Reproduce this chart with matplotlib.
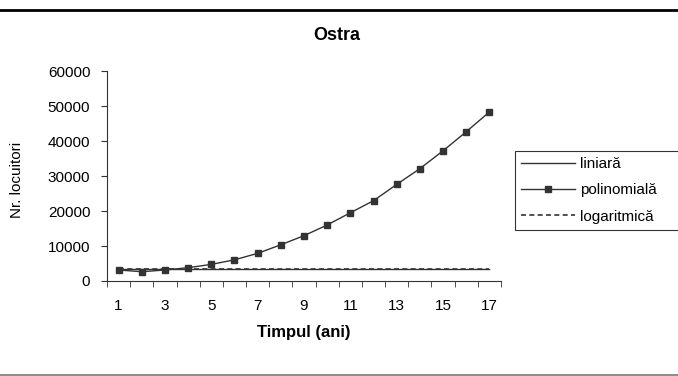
import matplotlib
matplotlib.use("Agg")
from matplotlib import pyplot as plt
from matplotlib.lines import Line2D

plt.rcParams['font.family'] = ['Liberation Sans', 'DejaVu Sans']

# years 1..17
years = list(range(1, 18))
polinomiala = [3150, 2650, 3150, 3800, 4750, 6050, 7900, 10350, 12950,
               16000, 19500, 22950, 27600, 32100, 37200, 42650, 48300]
liniara = [3350] * 17
logaritmica = [3450] * 17

y_ticks = [0, 10000, 20000, 30000, 40000, 50000, 60000]
x_labels = [1, 3, 5, 7, 9, 11, 13, 15, 17]

W, H = 678, 376
fig = plt.figure(figsize=(W / 100, H / 100), dpi=100)
ax = fig.add_axes([107 / W, 1 - 281 / H, 394 / W, 210 / H])

c = "#333333"
ax.plot(years, liniara, color=c, linewidth=1.0, label="liniară")
ax.plot(years, polinomiala, color=c, linewidth=1.0, marker="s", markersize=5,
        label="polinomială")
ax.plot(years, logaritmica, color=c, linewidth=1.2, linestyle=(0, (3, 2)),
        label="logaritmică")

ax.set_xlim(0.5, 17.5)
ax.set_ylim(0, 60000)
ax.set_yticks(y_ticks)
ax.set_yticklabels([str(v) for v in y_ticks], fontsize=11)
ax.set_xticks(x_labels)
ax.set_xticklabels([str(v) for v in x_labels], fontsize=11)
ax.set_xticks([i + 0.5 for i in range(0, 18)], minor=True)
ax.tick_params(axis='x', which='major', length=0, pad=13)
ax.tick_params(axis='x', which='minor', length=4, direction='out', color=c)
ax.tick_params(axis='y', length=4, direction='out', color=c, pad=8)

for s in ["top", "right"]:
    ax.spines[s].set_visible(False)
for s in ["left", "bottom"]:
    ax.spines[s].set_color(c)

fig.text(337 / W, 1 - 36 / H, "Ostra", fontsize=13, fontweight="bold",
         ha="center", va="center")
fig.text(304 / W, 1 - 333 / H, "Timpul (ani)", fontsize=12,
         fontweight="bold", ha="center", va="center")
fig.text(17 / W, 1 - 180 / H, "Nr. locuitori", fontsize=11, rotation=90,
         ha="center", va="center")

leg = ax.legend(loc="upper left", mode="expand",
                bbox_to_anchor=(515 / W, 1 - 230 / H, 175 / W, 79 / H),
                bbox_transform=fig.transFigure, fontsize=11, frameon=True,
                fancybox=False, edgecolor="black", handlelength=3.5,
                borderpad=0.4, labelspacing=0.8, handletextpad=0.35,
                borderaxespad=0)
leg.get_frame().set_linewidth(0.8)

# frame lines above and below the chart
fig.add_artist(Line2D([0, 1], [1 - 10 / H, 1 - 10 / H], color="black",
                      linewidth=2, transform=fig.transFigure))
fig.add_artist(Line2D([0, 1], [1.5 / H, 1.5 / H], color="#777777",
                      linewidth=1.2, transform=fig.transFigure))

fig.savefig("out.png", dpi=100)
